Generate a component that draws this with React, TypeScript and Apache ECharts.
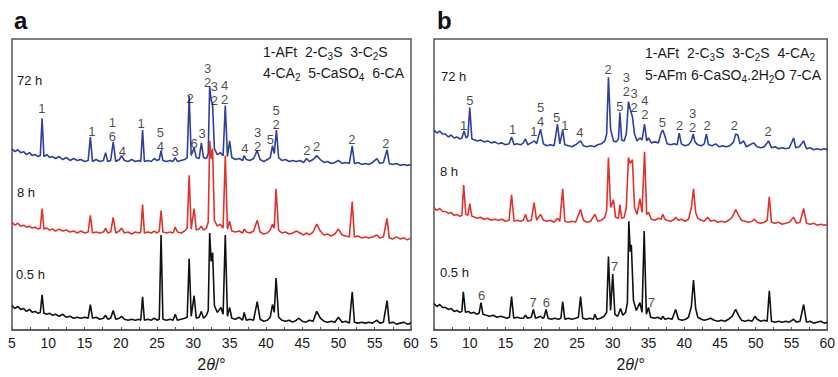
import React, { useEffect, useRef } from "react";
import * as echarts from "echarts";

// ---- Panel a: XRD traces [2θ, offset intensity] ----
const a72: number[][] = [
[5,185],[5.4,182],[5.8,184],[6.2,181],[6.6,182],[7,179],[7.4,181],[7.8,178],[8.2,179],[8.6,177],[8.9,178],[9.15,216],[9.4,177],[9.8,179],[10.2,176],[10.6,177],[11.0,175],[11.5,177],[12,174],[12.5,176],[13,173],[13.5,175],[14,173],[14.5,174],[15,172],[15.5,173],[15.8,197],[16.1,172],[16.6,174],[17.1,172],[17.6,173],[17.9,181],[18.2,172],[18.6,173],[18.95,192],[19.3,172],[19.8,174],[20.1,178],[20.5,173],[21,172],[21.5,174],[22,172],[22.5,173],[22.75,172],[23.0,204],[23.25,172],[23.7,173],[24.2,172],[24.6,175],[25,173],[25.3,174],[25.55,183],[25.8,173],[26.3,172],[26.8,173],[27.2,172],[27.5,176],[27.8,172],[28.3,173],[28.8,174],[29.15,176],[29.42,239],[29.7,178],[30.1,186],[30.4,176],[30.8,175],[31.1,191],[31.4,176],[31.8,175],[32.05,180],[32.25,248],[32.45,235],[32.65,230],[32.9,185],[33.3,179],[33.7,181],[34.1,178],[34.4,229],[34.7,177],[35.0,193],[35.3,176],[35.8,174],[36.3,175],[36.8,173],[37.0,178],[37.3,174],[37.8,173],[38.3,175],[38.8,183],[39.2,174],[39.7,172],[40.2,174],[40.6,176],[40.9,188],[41.15,180],[41.45,204],[41.75,176],[42.2,173],[42.7,174],[43.2,172],[43.7,173],[44.2,172],[44.7,173],[45.2,171],[45.6,175],[46,172],[46.5,174],[47,178],[47.5,174],[48,171],[48.5,172],[49,170],[49.5,171],[50,173],[50.5,170],[51,171],[51.5,170],[51.9,188],[52.2,170],[52.7,171],[53.2,169],[53.7,170],[54.2,169],[54.7,171],[55.3,175],[55.7,170],[56.2,171],[56.7,184],[57.0,170],[57.5,169],[58,170],[58.5,168],[59,169],[59.5,168],[60,169]
];
const a8: number[][] = [
[5,110],[5.4,107],[5.8,109],[6.2,106],[6.6,107],[7,105],[7.4,106],[7.8,104],[8.2,105],[8.6,103],[8.9,104],[9.15,124],[9.4,103],[9.8,104],[10.2,102],[10.6,103],[11,101],[11.5,103],[12,101],[12.5,102],[13,100],[13.5,101],[14,99],[14.5,101],[15,99],[15.5,100],[15.8,117],[16.1,99],[16.6,100],[17.1,99],[17.6,100],[17.9,104],[18.2,99],[18.6,100],[18.95,115],[19.3,99],[19.8,101],[20.1,104],[20.5,99],[21,100],[21.5,98],[22,100],[22.5,99],[22.75,100],[23,128],[23.25,99],[23.7,100],[24.2,99],[24.6,101],[25,99],[25.3,101],[25.55,122],[25.8,100],[26.3,99],[26.8,100],[27.2,99],[27.5,105],[27.8,100],[28.3,99],[28.8,101],[29.15,104],[29.42,158],[29.7,103],[30.1,124],[30.4,102],[30.8,103],[31.1,106],[31.4,102],[31.8,104],[32.05,110],[32.25,193],[32.45,175],[32.65,185],[32.9,112],[33.3,106],[33.7,108],[34.1,104],[34.4,178],[34.7,103],[35,111],[35.3,101],[35.8,100],[36.3,101],[36.8,99],[37,103],[37.3,100],[37.8,99],[38.3,101],[38.8,112],[39.2,100],[39.7,98],[40.2,99],[40.6,102],[40.9,108],[41.15,104],[41.4,144],[41.75,102],[42.2,99],[42.7,100],[43.2,98],[43.7,99],[44.2,101],[44.7,99],[45.2,97],[45.6,99],[46,97],[46.5,100],[47,108],[47.5,101],[48,97],[48.5,98],[49,96],[49.5,98],[50,103],[50.5,97],[51,96],[51.5,95],[51.9,131],[52.2,95],[52.7,96],[53.2,94],[53.7,95],[54.2,94],[54.7,95],[55.3,97],[55.7,94],[56.2,95],[56.7,114],[57,94],[57.5,93],[58,95],[58.5,93],[59,94],[59.5,92],[60,94]
];
const a05: number[][] = [
[5,25],[5.4,22],[5.8,24],[6.2,21],[6.6,22],[7,19],[7.4,21],[7.8,18],[8.2,19],[8.6,17],[8.9,18],[9.15,36],[9.4,17],[9.8,16],[10.2,17],[10.6,15],[11,16],[11.5,14],[12,16],[12.5,13],[13,14],[13.5,12],[14,13],[14.5,12],[15,13],[15.5,12],[15.8,26],[16.1,12],[16.6,13],[17.1,11],[17.6,12],[17.9,15],[18.2,11],[18.6,12],[18.95,20],[19.3,11],[19.8,12],[20.1,14],[20.5,11],[21,10],[21.5,11],[22,10],[22.5,11],[22.75,10],[23,34],[23.25,10],[23.7,11],[24.2,10],[24.6,12],[25,10],[25.3,11],[25.55,97],[25.8,11],[26.3,10],[26.8,11],[27.2,10],[27.5,16],[27.8,10],[28.3,11],[28.8,12],[29.15,13],[29.42,73],[29.7,14],[30.1,35],[30.4,12],[30.8,13],[31.1,19],[31.4,12],[31.8,15],[32.05,20],[32.25,99],[32.45,70],[32.65,79],[32.9,25],[33.3,18],[33.8,23],[34.1,16],[34.4,97],[34.7,14],[35,23],[35.3,12],[35.8,11],[36.3,13],[36.8,10],[37,18],[37.3,10],[37.8,11],[38.3,10],[38.8,29],[39.2,11],[39.7,9],[40.2,10],[40.6,13],[40.9,26],[41.15,18],[41.4,53],[41.75,13],[42.2,10],[42.7,9],[43.2,10],[43.7,8],[44.2,10],[44.5,12],[45,9],[45.5,8],[46,10],[46.5,9],[47,19],[47.5,12],[48,9],[48.5,8],[49,9],[49.5,8],[50,13],[50.5,8],[51,9],[51.5,7],[51.9,39],[52.2,8],[52.7,7],[53.2,8],[53.7,7],[54.2,8],[54.7,7],[55.3,10],[55.7,7],[56.2,8],[56.7,30],[57,7],[57.5,8],[58,6],[58.5,7],[59,8],[59.5,6],[60,7]
];

// ---- Panel b ----
const b72: number[][] = [
[5,204],[5.4,201],[5.8,203],[6.2,200],[6.6,200],[7,197],[7.4,199],[7.8,196],[8.2,197],[8.6,195],[8.9,196],[9.2,203],[9.5,196],[9.75,198],[10.0,227],[10.3,195],[10.7,194],[11.1,193],[11.5,194],[12,192],[12.5,193],[13,191],[13.5,192],[14,190],[14.5,191],[15,189],[15.5,190],[15.85,197],[16.2,189],[16.6,190],[17.1,189],[17.5,191],[17.8,195],[18.1,189],[18.6,191],[19.05,193],[19.35,190],[19.9,205],[20.3,190],[20.8,188],[21.3,189],[21.8,188],[22.27,210],[22.6,190],[23.0,204],[23.3,189],[23.8,188],[24.3,187],[24.8,189],[25.5,193],[25.9,188],[26.4,187],[26.9,188],[27.4,187],[27.9,189],[28.4,190],[28.9,193],[29.15,200],[29.4,258],[29.7,205],[30.1,193],[30.5,192],[30.8,195],[31.0,222],[31.25,194],[31.6,193],[31.9,200],[32.2,233],[32.45,225],[32.75,218],[33.05,200],[33.4,193],[33.8,196],[34.1,194],[34.45,210],[34.75,193],[35.0,196],[35.4,191],[35.9,192],[36.4,191],[36.75,201],[37.0,204],[37.3,198],[37.6,190],[38.1,189],[38.6,190],[39.0,189],[39.3,201],[39.6,190],[40.1,188],[40.6,189],[41.0,193],[41.25,200],[41.5,192],[41.9,189],[42.4,188],[42.8,190],[43.1,200],[43.4,189],[43.9,188],[44.4,190],[44.9,187],[45.4,188],[45.9,187],[46.4,188],[46.9,192],[47.2,200],[47.5,199],[47.8,190],[48.3,193],[48.7,187],[49.2,189],[49.7,191],[50.2,187],[50.7,186],[51.2,187],[51.8,193],[52.2,186],[52.7,187],[53.2,185],[53.7,186],[54.2,185],[54.7,186],[55.3,196],[55.6,186],[56.1,187],[56.7,193],[57.1,185],[57.6,186],[58.1,184],[58.6,185],[59.1,184],[59.6,185],[60,184]
];
const b8: number[][] = [
[5,125],[5.4,122],[5.8,124],[6.2,121],[6.6,121],[7,119],[7.4,120],[7.8,117],[8.2,118],[8.6,116],[8.9,117],[9.15,148],[9.45,118],[9.75,117],[10.0,129],[10.3,116],[10.7,115],[11.1,114],[11.5,115],[12,113],[12.5,114],[13,112],[13.5,113],[14,112],[14.5,113],[15,111],[15.5,112],[15.85,138],[16.2,111],[16.6,112],[17.1,111],[17.5,112],[17.8,118],[18.1,111],[18.6,112],[19.0,130],[19.35,112],[19.9,118],[20.3,112],[20.8,111],[21.3,112],[21.8,110],[22.27,114],[22.6,111],[23.0,144],[23.3,111],[23.8,110],[24.3,111],[24.8,110],[25.5,123],[25.9,112],[26.4,110],[26.9,111],[27.5,118],[27.9,111],[28.4,112],[28.9,115],[29.15,122],[29.4,176],[29.7,125],[30.1,133],[30.4,115],[30.8,114],[31.0,128],[31.25,114],[31.6,115],[31.9,125],[32.2,176],[32.45,170],[32.75,174],[33.05,125],[33.4,118],[33.8,134],[34.1,120],[34.45,182],[34.75,118],[35.0,120],[35.4,113],[35.9,112],[36.4,114],[36.75,113],[37.0,118],[37.3,113],[37.6,112],[38.1,111],[38.6,113],[38.8,115],[39.2,112],[39.6,113],[40.1,111],[40.6,113],[41.0,125],[41.3,144],[41.6,120],[41.9,114],[42.4,112],[42.8,111],[43.3,115],[43.7,111],[44.2,112],[44.7,110],[45.2,111],[45.7,110],[46.2,112],[46.7,115],[47.2,123],[47.6,117],[48,112],[48.5,111],[49,110],[49.5,111],[49.8,113],[50.2,110],[50.7,109],[51.2,110],[51.6,112],[51.9,136],[52.2,110],[52.7,109],[53.2,110],[53.7,108],[54.2,109],[54.7,110],[55.3,115],[55.7,109],[56.2,110],[56.7,124],[57.1,109],[57.6,108],[58.1,109],[58.6,107],[59.1,108],[59.6,107],[60,108]
];
const b05: number[][] = [
[5,27],[5.4,24],[5.8,26],[6.2,23],[6.6,23],[7,21],[7.4,22],[7.8,19],[8.2,20],[8.6,18],[8.9,19],[9.1,39],[9.4,18],[9.8,19],[10.2,17],[10.6,18],[11.0,16],[11.3,17],[11.57,28],[11.85,16],[12.3,15],[12.8,14],[13.3,15],[13.8,13],[14.3,14],[14.8,13],[15.2,12],[15.55,13],[15.85,34],[16.15,12],[16.6,13],[17.1,12],[17.5,12],[17.8,15],[18.1,12],[18.6,13],[18.9,21],[19.2,12],[19.6,13],[19.9,14],[20.2,12],[20.4,13],[20.67,21],[20.95,12],[21.4,11],[21.9,12],[22.4,11],[22.75,12],[23.0,29],[23.3,11],[23.8,12],[24.3,11],[24.8,12],[25.2,13],[25.5,34],[25.8,12],[26.3,11],[26.8,12],[27.3,11],[27.5,16],[27.8,11],[28.3,12],[28.8,14],[29.15,18],[29.4,75],[29.7,20],[30.0,57],[30.3,16],[30.7,14],[31.1,22],[31.4,15],[31.8,18],[32.05,28],[32.25,111],[32.45,80],[32.6,87],[32.9,30],[33.3,20],[33.8,28],[34.1,18],[34.4,101],[34.7,16],[35.0,23],[35.3,13],[35.8,12],[36.3,13],[36.8,11],[37.0,14],[37.3,11],[37.8,12],[38.3,11],[38.8,21],[39.2,11],[39.7,10],[40.2,11],[40.6,13],[41.0,24],[41.3,51],[41.6,22],[41.9,13],[42.4,11],[42.8,10],[43.3,11],[43.7,12],[44.2,10],[44.7,9],[45.2,10],[45.7,9],[46.2,11],[46.7,14],[47.2,21],[47.6,15],[48,10],[48.5,9],[49,10],[49.5,9],[49.9,14],[50.2,11],[50.7,9],[51.2,10],[51.6,9],[51.9,40],[52.2,9],[52.7,8],[53.2,9],[53.7,8],[54.2,9],[54.7,8],[55.3,11],[55.7,8],[56.2,9],[56.7,26],[57.1,8],[57.6,9],[58.1,7],[58.6,8],[59.1,9],[59.6,7],[60,8]
];

// ---- Peak annotations [2θ, label bottom, text] ----
const annA: (number | string)[][] = [
[9.1,222,"1"],[16.0,199,"1"],[18.85,193,"1\n6"],[20.2,178,"4"],[22.8,207,"1"],[25.45,183,"5\n4"],[27.5,178,"3"],[29.55,232,"2"],[30.1,186,"6"],[31.2,196,"3"],[31.95,249,"3\n2"],[32.9,230,"3\n2"],[34.3,231,"4\n2"],[37.1,181,"4"],[38.85,183,"3\n2"],[40.6,190,"5"],[41.4,206,"5\n2"],[45.65,179,"2"],[47.0,183,"2"],[51.85,190,"2"],[56.55,186,"2"]
];
const annB: (number | string)[][] = [
[9.13,205,"1"],[10.0,230,"5"],[15.98,201,"1"],[18.97,199,"1"],[19.9,209,"5\n4"],[22.15,213,"5"],[23.3,205,"1"],[25.4,198,"4"],[29.35,262,"2"],[31.0,224,"5"],[31.9,239,"3\n2"],[32.98,223,"3\n2"],[34.5,216,"4\n2"],[36.94,208,"5"],[39.37,205,"2"],[41.16,203,"3\n2"],[43.2,205,"2"],[47.0,205,"2"],[51.73,199,"2"],
[11.66,31,"6"],[18.88,24,"7"],[20.71,24,"6"],[30.27,61,"7"],[35.4,24,"7"]
];

const timeLabels = ["72 h", "8 h", "0.5 h"];
const xTicks = { min: 5, max: 60, interval: 5 };

const FONT = "'Liberation Sans', Arial, Helvetica, sans-serif";
const BLUE = "#2e3f9f";
const RED = "#e3322b";
const BLACK = "#111111";
const FRAME = "#555555";
const TEXT = "#1a1a1a";

export default function App() {
  const ref = useRef<HTMLDivElement>(null);
  useEffect(() => {
    if (!ref.current) return;
    const chart = echarts.init(ref.current, undefined, { renderer: "svg" });
    const gridW = 399, gridH = 297, top = 39;
    const grids = [
      { left: 12, top, width: gridW, height: gridH, show: true, borderColor: FRAME, borderWidth: 1.5, backgroundColor: "transparent" },
      { left: 434, top, width: gridW, height: gridH, show: true, borderColor: FRAME, borderWidth: 1.5, backgroundColor: "transparent" },
    ];
    const xAxis = [0, 1].map((i) => ({
      gridIndex: i, type: "value", min: xTicks.min, max: xTicks.max, interval: xTicks.interval,
      axisLine: { show: true, lineStyle: { color: FRAME, width: 1.5 } },
      axisTick: { show: true, inside: true, length: 3, lineStyle: { color: FRAME, width: 1 } },
      minorTick: { show: true, splitNumber: 2, length: 3, lineStyle: { color: FRAME, width: 1 } },
      splitLine: { show: false },
      axisLabel: { color: TEXT, fontSize: 14, margin: 6, fontFamily: FONT },
      name: "2{i|θ}/°", nameLocation: "middle", nameGap: 26,
      nameTextStyle: { color: TEXT, fontSize: 16, fontFamily: FONT, rich: { i: { fontStyle: "italic", fontSize: 16, fontFamily: FONT, color: TEXT } } },
    }));
    const yAxis = [0, 1].map((i) => ({ gridIndex: i, type: "value", min: 0, max: gridH, show: false }));
    const line = (data: number[][], color: string, idx: number) => ({
      type: "line", data, xAxisIndex: idx, yAxisIndex: idx, showSymbol: false, symbol: "none",
      lineStyle: { color, width: 1.6 }, itemStyle: { color }, silent: true, z: 2,
    });
    const ann = (rows: (number | string)[][], idx: number) => ({
      type: "scatter", xAxisIndex: idx, yAxisIndex: idx, symbolSize: 0,
      data: rows.map((r) => ({ value: [r[0], r[1]], name: r[2] })),
      itemStyle: { color: TEXT }, silent: true, z: 5,
      label: {
        show: true, position: "top", distance: 0, offset: [0, 3],
        formatter: "{b}", color: TEXT, fontSize: 13, lineHeight: 14, fontFamily: FONT,
        textBorderWidth: 0,
      },
      emphasis: { disabled: true },
    });
    const sub = { fontSize: 10, fontFamily: FONT, fill: TEXT, padding: [9, 0, 0, 0] };
    const txt = (left: number, y: number, text: string, size = 13) => ({
      type: "text", left, top: y, silent: true,
      style: { text, fill: TEXT, font: `${size}px ${FONT}`, rich: { s: sub } },
    });
    const graphic = [
      { type: "text", left: 14, top: 8, style: { text: "a", fill: "#111", font: `bold 24px ${FONT}` } },
      { type: "text", left: 437, top: 8, style: { text: "b", fill: "#111", font: `bold 24px ${FONT}` } },
      txt(263, 45, "1-AFt  2-C{s|3}S  3-C{s|2}S", 14),
      txt(263, 66, "4-CA{s|2}  5-CaSO{s|4}  6-CA", 14),
      txt(645, 46, "1-AFt  2-C{s|3}S  3-C{s|2}S  4-CA{s|2}", 14),
      txt(645, 68, "5-AFm 6-CaSO{s|4}.2H{s|2}O 7-CA", 14),
      txt(17, 74, timeLabels[0]), txt(17, 186, timeLabels[1]), txt(16, 268, timeLabels[2]),
      txt(441, 70, timeLabels[0]), txt(440, 165, timeLabels[1]), txt(440, 266, timeLabels[2]),
    ];
    chart.setOption({
      animation: false,
      grid: grids, xAxis, yAxis, graphic,
      series: [
        line(a72, BLUE, 0), line(a8, RED, 0), line(a05, BLACK, 0),
        line(b72, BLUE, 1), line(b8, RED, 1), line(b05, BLACK, 1),
        ann(annA, 0), ann(annB, 1),
      ],
    });
    return () => chart.dispose();
  }, []);
  return <div ref={ref} style={{ position: "absolute", left: 0, top: 0, width: 838, height: 377, background: "#fff" }} />;
}
